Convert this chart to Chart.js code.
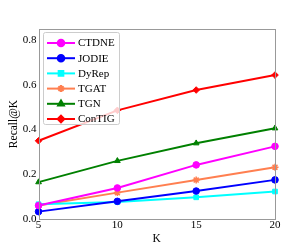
<!DOCTYPE html>
<html>
<head>
<meta charset="utf-8">
<script src="https://cdn.jsdelivr.net/npm/chart.js@4.4.1/dist/chart.umd.min.js"></script>
<style>
  html, body { margin: 0; padding: 0; background: #ffffff; }
  #wrap { width: 305px; height: 249px; }
</style>
</head>
<body>
<div id="wrap"><canvas id="recallChart" width="305" height="249"></canvas></div>
<script>
const kValues = [5, 10, 15, 20];
const yTicks = [0.0, 0.2, 0.4, 0.6, 0.8];

const ctdne = [0.060, 0.139, 0.242, 0.325];
const jodie = [0.033, 0.079, 0.125, 0.175];
const dyrep = [0.066, 0.076, 0.097, 0.123];
const tgat = [0.060, 0.118, 0.174, 0.232];
const tgn = [0.165, 0.260, 0.339, 0.406];
const contig = [0.350, 0.486, 0.577, 0.644];

const seriesNames = ['CTDNE', 'JODIE', 'DyRep', 'TGAT', 'TGN', 'ConTIG'];
const seriesValues = [ctdne, jodie, dyrep, tgat, tgn, contig];
const seriesColors = ['#ff00ff', '#0000ff', '#00ffff', '#ff7f50', '#008000', '#ff0000'];
const seriesMarkers = ['circle', 'circle', 'rect', 'star', 'triangle', 'rectRot'];

const serif = '"Liberation Serif", "Times New Roman", serif';

function makeDataset(i) {
    return {
        label: seriesNames[i],
        data: kValues.map((k, j) => ({ x: k, y: seriesValues[i][j] })),
        borderColor: seriesColors[i],
        backgroundColor: seriesColors[i],
        borderWidth: 2,
        pointStyle: seriesMarkers[i],
        pointRadius: seriesMarkers[i] === 'star' ? 3.5 : 3.3,
        pointBorderWidth: seriesMarkers[i] === 'star' ? 1.5 : 1,
        tension: 0,
        clip: false
    };
}

// frame around the plot area plus a matplotlib-like legend box
const framePlugin = {
    id: 'frame',
    afterDraw(chart) {
        const { ctx, chartArea: a } = chart;
        ctx.save();
        ctx.strokeStyle = '#999999';
        ctx.lineWidth = 1;
        ctx.strokeRect(Math.round(a.left) + 0.5, Math.round(a.top) + 0.5,
            Math.round(a.right - a.left), Math.round(a.bottom - a.top));

        // legend
        const bx = 43, by = 32, bw = 76, bh = 92;
        ctx.fillStyle = 'rgba(255,255,255,0.8)';
        ctx.strokeStyle = '#cccccc';
        ctx.beginPath();
        ctx.roundRect(bx + 0.5, by + 0.5, bw, bh, 2);
        ctx.fill();
        ctx.stroke();
        ctx.font = '11px ' + serif;
        ctx.textBaseline = 'middle';
        chart.data.datasets.forEach((ds, i) => {
            const yy = by + 11 + i * 15.2;
            ctx.strokeStyle = ds.borderColor;
            ctx.lineWidth = 2;
            ctx.beginPath();
            ctx.moveTo(bx + 4, yy);
            ctx.lineTo(bx + 32, yy);
            ctx.stroke();
            ctx.fillStyle = ds.backgroundColor;
            Chart.helpers.drawPoint(ctx, {
                pointStyle: ds.pointStyle,
                radius: ds.pointRadius,
                borderWidth: ds.pointBorderWidth
            }, bx + 18, yy);
            ctx.fillStyle = '#000000';
            ctx.fillText(ds.label, bx + 35, yy + 0.5);
        });
        ctx.restore();
    }
};

new Chart(document.getElementById('recallChart'), {
    type: 'line',
    data: { datasets: seriesValues.map((v, i) => makeDataset(i)) },
    options: {
        responsive: false,
        animation: false,
        layout: { padding: { top: 29, right: 30, left: 7, bottom: 2 } },
        plugins: { legend: { display: false }, tooltip: { enabled: false } },
        scales: {
            x: {
                type: 'linear',
                min: 5,
                max: 20,
                afterBuildTicks: axis => { axis.ticks = kValues.map(v => ({ value: v })); },
                grid: { display: false, drawTicks: false },
                border: { display: false },
                ticks: { color: '#000', font: { family: serif, size: 11 }, padding: 0, maxRotation: 0 },
                title: { display: true, text: 'K', color: '#000', font: { family: serif, size: 11.5 }, padding: { top: 0, bottom: 1 } }
            },
            y: {
                min: 0,
                max: 0.85,
                afterBuildTicks: axis => { axis.ticks = yTicks.map(v => ({ value: v })); },
                grid: { display: false, drawTicks: false },
                border: { display: false },
                ticks: { color: '#000', font: { family: serif, size: 11 }, padding: 2,
                    callback: v => v.toFixed(1) },
                title: { display: true, text: 'Recall@K', color: '#000', font: { family: serif, size: 11.5 }, padding: { top: 0, bottom: 0 } }
            }
        }
    },
    plugins: [framePlugin]
});
</script>
</body>
</html>
